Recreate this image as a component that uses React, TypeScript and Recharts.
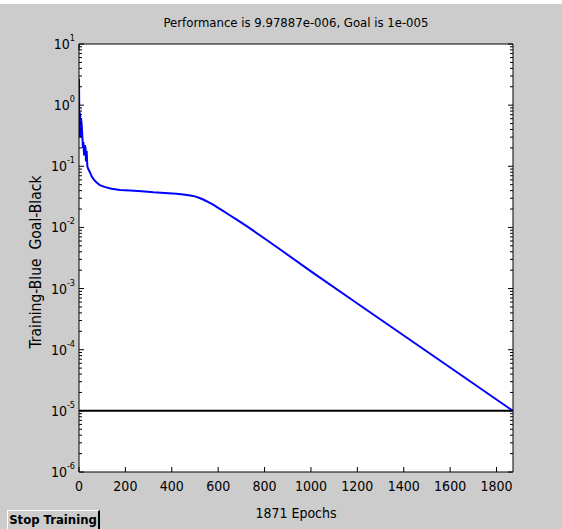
import { LineChart, Line, XAxis, YAxis, ReferenceLine, ReferenceArea } from "recharts";

// epochs and training performance (log scale)
const epochs = [0, 2, 3, 5, 7, 9, 12, 15, 17, 19, 22, 25, 28, 30, 33, 36, 40, 47, 55, 65, 75, 90, 110, 140, 177, 220, 270, 320, 370, 420, 450, 480, 500, 520, 540, 560, 580, 600, 621, 650, 680, 723, 800, 866, 1000, 1200, 1400, 1600, 1871];
const perf = [2.7, 0.3, 0.75, 0.7, 0.3, 0.6, 0.45, 0.28, 0.2, 0.25, 0.15, 0.22, 0.2, 0.12, 0.18, 0.1, 0.09, 0.08, 0.068, 0.06, 0.055, 0.049, 0.046, 0.043, 0.041, 0.04, 0.039, 0.0375, 0.0365, 0.0355, 0.0345, 0.0334, 0.0322, 0.0303, 0.0281, 0.0257, 0.0233, 0.0209, 0.0186, 0.0158, 0.0134, 0.0105, 0.0066, 0.0044, 0.00191, 0.000571, 0.000171, 0.0000512, 0.00000997887];
const goal = 1e-5;
const totalEpochs = 1871;

const xTicks = [0, 200, 400, 600, 800, 1000, 1200, 1400, 1600, 1800];
const decades = [1e-6, 1e-5, 1e-4, 1e-3, 1e-2, 1e-1, 1, 10];
const minorSteps = [2, 3, 4, 5, 6, 7, 8, 9];

const data = epochs.map((e, i) => ({ epoch: e, perf: perf[i] }));
const yTicks: number[] = [];
decades.forEach((d, i) => {
    yTicks.push(d);
    if (i < decades.length - 1) minorSteps.forEach(m => yTicks.push(d * m));
});

const FONT = "'DejaVu Sans Condensed', 'DejaVu Sans', sans-serif";
const isMajor = (v: number) => Math.abs(Math.log10(v) - Math.round(Math.log10(v))) < 1e-6;

const LeftTick = (props: any) => {
    const { x, y, payload } = props;
    const ax = x + 4;
    const major = isMajor(payload.value);
    const exp = Math.round(Math.log10(payload.value));
    return (
        <g>
            <line x1={ax} x2={ax + (major ? 5 : 3)} y1={y} y2={y} stroke="#000" />
            {major && (
                <text x={ax - 4} y={y + 5} textAnchor="end" fontFamily={FONT} fontSize={14} fill="#000" style={{ fontStretch: "condensed" }}>
                    <tspan>10</tspan>
                    <tspan dy={-8} fontSize={9}>{exp}</tspan>
                </text>
            )}
        </g>
    );
};

const RightTick = (props: any) => {
    const { x, y, payload } = props;
    const major = isMajor(payload.value);
    return <line x1={x} x2={x - (major ? 5 : 3)} y1={y} y2={y} stroke="#000" />;
};

const BottomTick = (props: any) => {
    const { x, y, payload } = props;
    return (
        <g>
            <line x1={x} x2={x} y1={y} y2={y - 5} stroke="#000" />
            <text x={x} y={y + 19} textAnchor="middle" fontFamily={FONT} fontSize={14} fill="#000" style={{ fontStretch: "condensed" }}>{payload.value}</text>
        </g>
    );
};

const TopTick = (props: any) => {
    const { x, y } = props;
    return <line x1={x} x2={x} y1={y} y2={y + 6} stroke="#000" />;
};

export default function App() {
    return (
        <div style={{ position: "absolute", left: 0, top: 0, width: 562, height: 529, background: "#fff", overflow: "hidden" }}>
            <div style={{ position: "absolute", left: 0, top: 4, width: 562, height: 525, background: "#cccccc" }} />
            <div style={{ position: "absolute", left: 0, top: 0 }}>
                <LineChart width={562} height={529} data={data} margin={{ top: 34, right: 39, bottom: 27, left: 39 }}>
                    <XAxis xAxisId="bottom" dataKey="epoch" type="number" domain={[0, totalEpochs]} ticks={xTicks} interval={0}
                        height={30} tickSize={0} tickMargin={0} tick={<BottomTick />} axisLine={{ stroke: "#000" }} allowDataOverflow />
                    <XAxis xAxisId="top" orientation="top" type="number" domain={[0, totalEpochs]} ticks={xTicks} interval={0}
                        height={10} tickSize={0} tickMargin={0} tick={<TopTick />} axisLine={{ stroke: "#000" }} allowDataOverflow />
                    <YAxis yAxisId="left" scale="log" type="number" domain={[1e-6, 10]} ticks={yTicks} interval={0}
                        width={40} tickSize={0} tickMargin={4} tick={<LeftTick />} axisLine={{ stroke: "#000" }} allowDataOverflow />
                    <YAxis yAxisId="right" orientation="right" scale="log" type="number" domain={[1e-6, 10]} ticks={yTicks} interval={0}
                        width={10} tickSize={0} tickMargin={0} tick={<RightTick />} axisLine={{ stroke: "#000" }} allowDataOverflow />
                    <ReferenceArea xAxisId="bottom" yAxisId="left" x1={0} x2={totalEpochs} y1={1e-6} y2={10} fill="#ffffff" fillOpacity={1} stroke="none" />
                    <ReferenceLine xAxisId="bottom" yAxisId="left" y={goal} stroke="#000" strokeWidth={2} />
                    <Line xAxisId="bottom" yAxisId="left" dataKey="perf" type="linear" stroke="#0000ff" strokeWidth={2}
                        dot={false} isAnimationActive={false} />
                </LineChart>
            </div>
            <div style={{ position: "absolute", left: 96, width: 400, top: 15, textAlign: "center", fontFamily: FONT, fontStretch: "condensed", fontSize: 13, color: "#000", whiteSpace: "nowrap" }}>
                Performance is 9.97887e-006, Goal is 1e-005
            </div>
            <div style={{ position: "absolute", left: 196, width: 200, top: 505, textAlign: "center", fontFamily: FONT, fontStretch: "condensed", fontSize: 14, color: "#000", whiteSpace: "nowrap" }}>
                1871 Epochs
            </div>
            <div style={{ position: "absolute", left: 36, top: 262, transform: "translate(-50%, -50%) rotate(-90deg)", fontFamily: FONT, fontStretch: "condensed", fontSize: 15.5, color: "#000", whiteSpace: "pre" }}>
                {"Training-Blue  Goal-Black"}
            </div>
            <div style={{
                position: "absolute", left: 7, top: 510, width: 93, height: 22, boxSizing: "border-box",
                background: "#cccccc", borderTop: "1px solid #fff", borderLeft: "1px solid #fff",
                borderRight: "2px solid #000", borderBottom: "2px solid #000",
                fontFamily: FONT, fontStretch: "condensed", fontWeight: "bold", fontSize: 13, lineHeight: "18px", textAlign: "center", color: "#000", whiteSpace: "nowrap"
            }}>
                Stop Training
            </div>
        </div>
    );
}
